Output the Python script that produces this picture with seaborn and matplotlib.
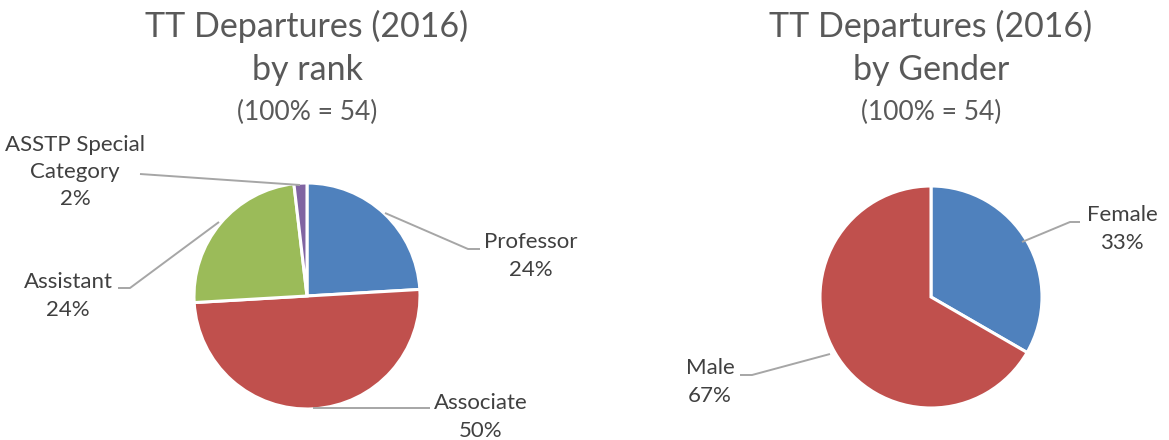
import matplotlib
matplotlib.use("Agg")
import matplotlib.pyplot as plt
import seaborn as sns

sns.set_theme(style="white")
plt.rcParams["font.family"] = ["Lato", "DejaVu Sans"]

W, H = 1169, 440

rank_labels = ["Professor", "Associate", "Assistant", "ASSTP Special\nCategory"]
rank_counts = [13, 27, 13, 1]
gender_labels = ["Female", "Male"]
gender_counts = [18, 36]
titles = ["TT Departures (2016)\nby rank", "TT Departures (2016)\nby Gender"]
colors = ["#4F81BD", "#C0504D", "#9BBB59", "#8064A2"]

TITLE_C = "#595959"
TEXT_C = "#404040"
LINE_C = "#A6A6A6"


def px2fig(x, y):
    return x / W, 1 - y / H


def make_pie_axes(fig, cx, cy, r):
    ax = fig.add_axes([(cx - r) / W, (H - cy - r) / H, 2 * r / W, 2 * r / H])
    return ax


def draw_pie(fig, cx, cy, r, counts, labels, layout, title, title_x):
    ax = make_pie_axes(fig, cx, cy, r)
    ax.pie(counts, colors=colors[:len(counts)], startangle=90, counterclock=False,
           wedgeprops=dict(edgecolor="white", linewidth=2.2))
    ax.set_xlim(-1, 1)
    ax.set_ylim(-1, 1)
    ax.set_aspect("equal")
    ax.axis("off")

    total = sum(counts)
    for lab, cnt, (pts, tx, ty) in zip(labels, counts, layout):
        xs = [(p[0] - cx) / r for p in pts]
        ys = [(cy - p[1]) / r for p in pts]
        ax.plot(xs, ys, color=LINE_C, lw=1.4, clip_on=False, solid_capstyle="butt")
        fx, fy = px2fig(tx, ty)
        fig.text(fx, fy, f"{lab}\n{round(cnt / total * 100)}%", ha="center", va="center",
                 fontsize=16, color=TEXT_C, linespacing=1.45)

    fx, fy = px2fig(title_x, 48)
    fig.text(fx, fy, title, ha="center", va="center", fontsize=24.5, color=TITLE_C,
             linespacing=1.45)
    fx, fy = px2fig(title_x, 112)
    fig.text(fx, fy, f"(100% = {total})", ha="center", va="center", fontsize=19,
             color=TITLE_C)


fig = plt.figure(figsize=(W / 100, H / 100), dpi=100)
fig.patch.set_facecolor("white")

rank_layout = [
    ([(385, 213), (468, 249), (480, 249)], 531, 256),
    ([(313, 408), (430, 408)], 481, 417),
    ([(219, 222), (130, 288), (118, 288)], 68, 296),
    ([(300, 185), (140, 174)], 75, 172),
]
draw_pie(fig, 307, 296, 113, rank_counts, rank_labels, rank_layout, titles[0], 307)

gender_layout = [
    ([(1022, 242), (1070, 222), (1080, 222)], 1122, 229),
    ([(830, 354), (752, 375), (740, 375)], 710, 382),
]
draw_pie(fig, 931, 297, 111, gender_counts, gender_labels, gender_layout, titles[1], 931)

fig.savefig("out.png", dpi=100, facecolor="white")
